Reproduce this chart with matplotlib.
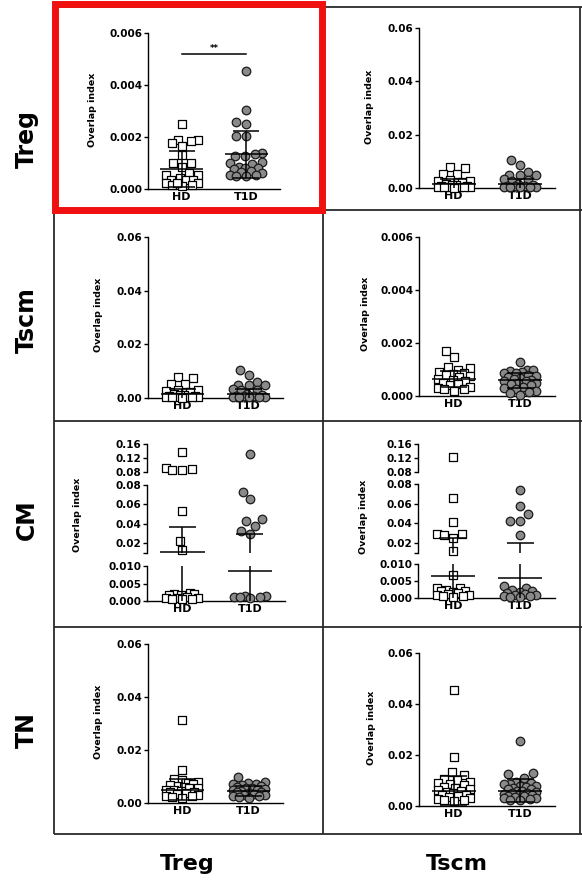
import numpy as np
import matplotlib
matplotlib.use("Agg")
import matplotlib.pyplot as plt
from matplotlib.lines import Line2D
from matplotlib.patches import Rectangle

# ---------------- data ----------------
groups = ["HD", "T1D"]
row_labels = ["Treg", "Tscm", "CM", "TN"]
col_labels = ["Treg", "Tscm"]
ylabel_text = "Overlap index"

# Row Treg / column Treg
treg_treg_hd = [0.00249, 0.0019, 0.00185, 0.0019, 0.00167, 0.00176, 0.0013, 0.00099, 0.00099,
                0.00086, 0.00054, 0.00054, 0.0006, 0.00041, 0.00035, 0.00035, 0.00035, 0.00022,
                0.00022, 0.00015, 0.00015, 0.0001, 0.00024]
treg_treg_t1d = [0.00452, 0.00305, 0.00257, 0.00249, 0.00204, 0.00204, 0.0014, 0.00135, 0.00128,
                 0.00125, 0.00102, 0.00099, 0.00097, 0.00085, 0.00082, 0.0008, 0.00078, 0.0007,
                 0.00065, 0.0006, 0.00055, 0.00053, 0.0005, 0.0005]
treg_treg_mean = [0.00077, 0.00134]
treg_treg_sd = [0.00071, 0.0009]
treg_treg_sig = 0.0052

# Row Treg / column Tscm
treg_tscm_hd = [0.0079, 0.0076, 0.0054, 0.0053, 0.003, 0.0028, 0.0025, 0.0024, 0.0016, 0.0012,
                0.001, 0.0008, 0.0006, 0.0005, 0.0004, 0.0003, 0.0003, 0.0002, 0.0002, 0.0001]
treg_tscm_t1d = [0.0104, 0.0085, 0.006, 0.005, 0.0047, 0.0047, 0.0032, 0.003, 0.0028, 0.0015,
                 0.0012, 0.0009, 0.0007, 0.0006, 0.0005, 0.0005, 0.0004, 0.0003, 0.0002]
treg_tscm_mean = [0.0015, 0.0015]
treg_tscm_sd = [0.0018, 0.002]

# Row Tscm / column Treg
tscm_treg_hd = [0.0079, 0.0076, 0.0054, 0.0053, 0.003, 0.0028, 0.0025, 0.0024, 0.0016, 0.0012,
                0.001, 0.0008, 0.0006, 0.0005, 0.0004, 0.0003, 0.0003, 0.0002, 0.0002, 0.0001]
tscm_treg_t1d = [0.0104, 0.0085, 0.006, 0.005, 0.0047, 0.0047, 0.0032, 0.003, 0.0028, 0.0015,
                 0.0012, 0.0009, 0.0007, 0.0006, 0.0005, 0.0005, 0.0004, 0.0003, 0.0002]
tscm_treg_mean = [0.0015, 0.0015]
tscm_treg_sd = [0.0018, 0.002]

# Row Tscm / column Tscm
tscm_tscm_hd = [0.00169, 0.00148, 0.0011, 0.00105, 0.00098, 0.0009, 0.00086, 0.00083, 0.0008,
                0.00075, 0.0007, 0.00065, 0.0006, 0.00055, 0.0005, 0.00045, 0.0004, 0.00035,
                0.0003, 0.00028, 0.00025, 0.0002]
tscm_tscm_t1d = [0.00129, 0.001, 0.00098, 0.00095, 0.0009, 0.00088, 0.00085, 0.0008, 0.00075,
                 0.0007, 0.00068, 0.00065, 0.0006, 0.00058, 0.00055, 0.0005, 0.00048, 0.00045,
                 0.0004, 0.00035, 0.0003, 0.00025, 0.0002, 0.00015, 0.0001, 0.00002]
tscm_tscm_mean = [0.00064, 0.0006]
tscm_tscm_sd = [0.0003, 0.00028]

# Row CM / column Treg (broken axis)
cm_treg_hd = [0.138, 0.092, 0.089, 0.087, 0.086, 0.053, 0.0224, 0.0128, 0.0022, 0.002, 0.0019,
              0.0018, 0.0017, 0.0012, 0.001, 0.0009, 0.0008, 0.0007, 0.0006, 0.0005]
cm_treg_t1d = [0.131, 0.0732, 0.066, 0.0448, 0.0428, 0.038, 0.0327, 0.0293, 0.0015, 0.0013,
               0.0012, 0.0012, 0.0011, 0.001]
cm_treg_mean = [0.0107, 0.0086]
cm_treg_sd = [0.0265, 0.0214]

# Row CM / column Tscm (broken axis)
cm_tscm_hd = [0.122, 0.0655, 0.0417, 0.0293, 0.0285, 0.029, 0.0245, 0.0118, 0.0068, 0.003,
              0.0028, 0.0025, 0.0022, 0.002, 0.0018, 0.0015, 0.0012, 0.001, 0.0008, 0.0006,
              0.0005, 0.0003]
cm_tscm_t1d = [0.0738, 0.0576, 0.049, 0.0428, 0.0425, 0.028, 0.0035, 0.003, 0.0025, 0.002,
               0.0018, 0.0015, 0.0012, 0.001, 0.0008, 0.0006, 0.0005, 0.0004, 0.0003]
cm_tscm_mean = [0.0066, 0.0059]
cm_tscm_sd = [0.0179, 0.0144]

# Row TN / column Treg
tn_treg_hd = [0.0314, 0.0125, 0.0092, 0.0085, 0.008, 0.0075, 0.007, 0.0068, 0.0065, 0.006,
              0.0058, 0.0055, 0.005, 0.0048, 0.0045, 0.0042, 0.004, 0.0038, 0.0035, 0.003,
              0.0028, 0.0025, 0.0022, 0.002]
tn_treg_t1d = [0.0098, 0.0078, 0.0075, 0.0072, 0.007, 0.0068, 0.0065, 0.006, 0.0058, 0.0055,
               0.0052, 0.005, 0.0048, 0.0045, 0.0042, 0.004, 0.0038, 0.0035, 0.0032, 0.003,
               0.0028, 0.0025, 0.0022, 0.002]
tn_treg_mean = [0.005, 0.0046]
tn_treg_sd = [0.004, 0.0018]

# Row TN / column Tscm
tn_tscm_hd = [0.0456, 0.0194, 0.0135, 0.0123, 0.0105, 0.0102, 0.0096, 0.009, 0.0087, 0.0083,
              0.0076, 0.0072, 0.0067, 0.0063, 0.006, 0.0055, 0.005, 0.0045, 0.0043, 0.004,
              0.0035, 0.003, 0.0028, 0.0025, 0.0022, 0.002]
tn_tscm_t1d = [0.0253, 0.0128, 0.0125, 0.011, 0.0095, 0.009, 0.0088, 0.0085, 0.008, 0.0078,
               0.0075, 0.007, 0.0068, 0.0065, 0.006, 0.0058, 0.0055, 0.0052, 0.005, 0.0048,
               0.0045, 0.0042, 0.004, 0.0038, 0.0035, 0.0032, 0.003, 0.0028, 0.0025, 0.0022]
tn_tscm_mean = [0.006, 0.006]
tn_tscm_sd = [0.0058, 0.0045]

# axis ticks
ticks_small = [0.0, 0.002, 0.004, 0.006]
labels_small = ["0.000", "0.002", "0.004", "0.006"]
ticks_large = [0.0, 0.02, 0.04, 0.06]
labels_large = ["0.00", "0.02", "0.04", "0.06"]
ticks_cm_top = [0.08, 0.12, 0.16]
labels_cm_top = ["0.08", "0.12", "0.16"]
ticks_cm_mid = [0.01, 0.02, 0.04, 0.06, 0.08]
labels_cm_mid = ["", "0.02", "0.04", "0.06", "0.08"]
ticks_cm_bot = [0.0, 0.005, 0.010]
labels_cm_bot = ["0.000", "0.005", "0.010"]

# ---------------- figure ----------------
W, H = 582, 883
plt.rcParams["font.family"] = ["DejaVu Sans"]
plt.rcParams["font.weight"] = "bold"
fig = plt.figure(figsize=(W / 100, H / 100), dpi=100)
fig.patch.set_facecolor("white")

XLIM = (-0.52, 1.52)


def rect(l, r, t, b):
    return [l / W, 1 - b / H, (r - l) / W, (b - t) / H]


def make_ax(l, r, t, b, ylim, ticks, labels, show_x=True):
    ax = fig.add_axes(rect(l, r, t, b))
    ax.set_xlim(*XLIM)
    ax.set_ylim(*ylim)
    ax.set_yticks(ticks)
    ax.set_yticklabels(labels)
    for s in ["top", "right"]:
        ax.spines[s].set_visible(False)
    ax.spines["left"].set_linewidth(1.0)
    if show_x:
        ax.spines["bottom"].set_linewidth(1.0)
        ax.set_xticks([0, 1])
        ax.set_xticklabels(groups)
        ax.tick_params(axis="x", length=0, labelsize=8, pad=2)
    else:
        ax.spines["bottom"].set_visible(False)
        ax.set_xticks([])
    ax.tick_params(axis="y", direction="out", length=3, width=1, labelsize=7.5, pad=1)
    ax.patch.set_visible(False)
    return ax


def swarm(ys, d, halfw):
    """Bounded beeswarm in pixel space: points overlap once the cloud is full."""
    ys = np.asarray(ys, float)
    order = np.argsort(ys)
    placed = []
    xs = np.zeros(len(ys))
    grid = np.arange(-halfw, halfw + 0.01, 1.0)
    grid = grid[np.argsort(np.abs(grid), kind="stable")]
    for i in order:
        y = ys[i]
        if not placed:
            xs[i] = 0.0
        else:
            P = np.array(placed)
            dist = np.sqrt((grid[:, None] - P[None, :, 0]) ** 2 + (y - P[None, :, 1]) ** 2).min(axis=1)
            ok = np.where(dist >= d)[0]
            xs[i] = grid[ok[0]] if len(ok) else grid[np.argmax(dist)]
        placed.append((xs[i], y))
    return xs


def seg_for(segs, v):
    for ax, lo, hi in segs:
        if lo - 1e-12 <= v <= hi + 1e-12:
            return ax
    return segs[0][0]


def draw_panel(segs, hd, t1d, mean, sd):
    styles = [dict(marker="s", s=26, facecolor="white", edgecolor="black", linewidths=0.9),
              dict(marker="o", s=38, facecolor="#8a8a8a", edgecolor="#1a1a1a", linewidths=0.9)]
    for g, vals in enumerate([hd, t1d]):
        vals = np.asarray(vals, float)
        axs = [seg_for(segs, v) for v in vals]
        ys_px = np.array([a.transData.transform((0, v))[1] for a, v in zip(axs, vals)])
        xs_px = swarm(ys_px, 9.5, 16)
        for ax, lo, hi in segs:
            bb = ax.get_window_extent()
            ppu = bb.width / (XLIM[1] - XLIM[0])
            mask = np.array([a is ax for a in axs])
            if mask.any():
                ax.scatter(g + xs_px[mask] / ppu, vals[mask], zorder=3, clip_on=False, **styles[g])
        m, s = mean[g], sd[g]
        for ax, lo, hi in segs:
            kw = dict(color="black", lw=1.1, zorder=5, solid_capstyle="butt")
            ax.plot([g - 0.33, g + 0.33], [m, m], **kw)
            ax.plot([g, g], [m - s, m + s], **kw)
            ax.plot([g - 0.2, g + 0.2], [m + s, m + s], **kw)
            ax.plot([g - 0.2, g + 0.2], [m - s, m - s], **kw)


def ylabel(x, y):
    fig.text(x / W, 1 - y / H, ylabel_text, rotation=90, ha="center", va="center",
             fontsize=6.8, fontweight="bold")


# Panel 1: Treg / Treg
ax1 = make_ax(148, 280, 33, 189, (0, 0.006), ticks_small, labels_small)
draw_panel([(ax1, 0, 0.006)], treg_treg_hd, treg_treg_t1d, treg_treg_mean, treg_treg_sd)
ax1.plot([0, 1], [treg_treg_sig, treg_treg_sig], color="black", lw=1.1, clip_on=False)
ax1.text(0.5, treg_treg_sig + 0.00003, "**", ha="center", va="bottom", fontsize=6)
ylabel(93, 110)

# Panel 2: Treg / Tscm
ax2 = make_ax(419, 555, 28, 188, (0, 0.06), ticks_large, labels_large)
draw_panel([(ax2, 0, 0.06)], treg_tscm_hd, treg_tscm_t1d, treg_tscm_mean, treg_tscm_sd)
ylabel(370, 107)

# Panel 3: Tscm / Treg
ax3 = make_ax(148, 283, 237, 398, (0, 0.06), ticks_large, labels_large)
draw_panel([(ax3, 0, 0.06)], tscm_treg_hd, tscm_treg_t1d, tscm_treg_mean, tscm_treg_sd)
ylabel(98, 315)

# Panel 4: Tscm / Tscm
ax4 = make_ax(419, 555, 237, 396, (0, 0.006), ticks_small, labels_small)
draw_panel([(ax4, 0, 0.006)], tscm_tscm_hd, tscm_tscm_t1d, tscm_tscm_mean, tscm_tscm_sd)
ylabel(365, 314)

# Panel 5: CM / Treg (broken)
a5t = make_ax(147, 285, 444, 472, (0.08, 0.16), ticks_cm_top, labels_cm_top, show_x=False)
a5m = make_ax(147, 285, 485, 553, (0.01, 0.08), ticks_cm_mid, labels_cm_mid, show_x=False)
a5b = make_ax(147, 285, 566, 601, (0.0, 0.010), ticks_cm_bot, labels_cm_bot)
draw_panel([(a5b, 0, 0.01), (a5m, 0.01, 0.08), (a5t, 0.08, 0.16)],
           cm_treg_hd, cm_treg_t1d, cm_treg_mean, cm_treg_sd)
ylabel(78, 515)

# Panel 6: CM / Tscm (broken)
a6t = make_ax(418, 555, 444, 472, (0.08, 0.16), ticks_cm_top, labels_cm_top, show_x=False)
a6m = make_ax(418, 555, 484, 552.7, (0.01, 0.08), ticks_cm_mid, labels_cm_mid, show_x=False)
a6b = make_ax(418, 555, 564, 598, (0.0, 0.010), ticks_cm_bot, labels_cm_bot)
draw_panel([(a6b, 0, 0.01), (a6m, 0.01, 0.08), (a6t, 0.08, 0.16)],
           cm_tscm_hd, cm_tscm_t1d, cm_tscm_mean, cm_tscm_sd)
ylabel(363, 517)

# Panel 7: TN / Treg
ax7 = make_ax(148, 283, 644, 803, (0, 0.06), ticks_large, labels_large)
draw_panel([(ax7, 0, 0.06)], tn_treg_hd, tn_treg_t1d, tn_treg_mean, tn_treg_sd)
ylabel(98, 722)

# Panel 8: TN / Tscm
ax8 = make_ax(419, 555, 653, 806, (0, 0.06), ticks_large, labels_large)
draw_panel([(ax8, 0, 0.06)], tn_tscm_hd, tn_tscm_t1d, tn_tscm_mean, tn_tscm_sd)
ylabel(372, 728)


# ---------------- grid borders ----------------
def fline(x1, y1, x2, y2, lw=1.3, color="#2a2a2a"):
    fig.add_artist(Line2D([x1 / W, x2 / W], [1 - y1 / H, 1 - y2 / H], transform=fig.transFigure,
                          lw=lw, color=color, solid_capstyle="butt"))


for yy in [7, 210, 421, 627, 834]:
    fline(54, yy, 582, yy)
for xx in [54, 323, 580]:
    fline(xx, 7, xx, 834)

fig.add_artist(Rectangle((54.5 / W, 1 - 209.5 / H), (321.5 - 54.5) / W, (209.5 - 4.5) / H,
                         transform=fig.transFigure, fill=False, edgecolor="#f01010", lw=5,
                         zorder=10))

# row / column labels
for lab, yy in zip(row_labels, [139, 320, 520, 730]):
    fig.text(27 / W, 1 - yy / H, lab, rotation=90, ha="center", va="center",
             fontsize=17, fontweight="bold")
for lab, xx in zip(col_labels, [187, 457]):
    fig.text(xx / W, 1 - 870 / H, lab, ha="center", va="baseline", fontsize=16,
             fontweight="bold")

fig.savefig("out.png", dpi=100, facecolor="white")
